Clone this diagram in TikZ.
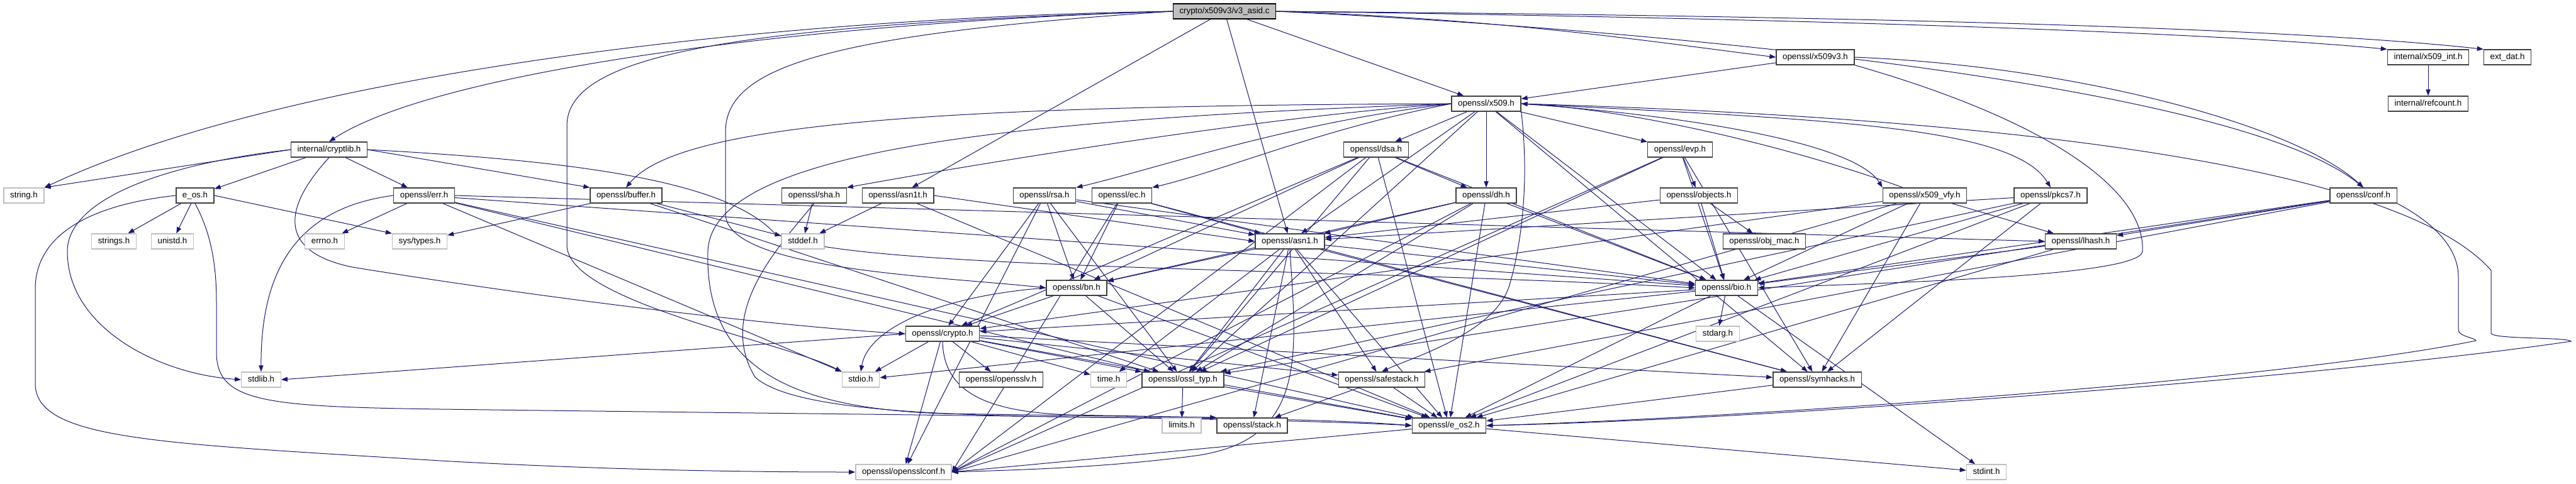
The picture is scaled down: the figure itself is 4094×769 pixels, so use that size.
\documentclass[tikz,border=0pt]{standalone}
\usepackage{fontspec}
\setmainfont{Liberation Sans}
\usetikzlibrary{arrows.meta}
\pgfdeclarelayer{bg}
\pgfsetlayers{bg,main}
\definecolor{edgeblue}{HTML}{191970}
\definecolor{sysgray}{HTML}{BFBFBF}
\definecolor{docgray}{HTML}{404040}
\tikzset{
  hdr/.style={draw=docgray, line width=1pt, fill=white, minimum height=18pt, inner xsep=7.6pt, inner ysep=0pt, font=\fontsize{10}{12}\selectfont, text height=7.4pt, text depth=2.1pt},
  syshdr/.style={hdr, draw=sysgray},
  roothdr/.style={hdr, fill=sysgray, draw=black},
  dep/.style={draw=edgeblue, line width=0.75pt, -{Triangle[length=7.5pt,width=5.5pt]}},
}
\begin{document}
\begin{tikzpicture}[x=0.75pt,y=-0.75pt]
\useasboundingbox (0,0) rectangle (4094,769);
% nodes
\node[roothdr] (root) at (1946,18) {crypto/x509v3/v3\_asid.c};
\node[hdr] (x509v3) at (2885,91) {openssl/x509v3.h};
\node[hdr] (x509int) at (3859,91) {internal/x509\_int.h};
\node[hdr] (extdat) at (3985,91) {ext\_dat.h};
\node[hdr] (x509) at (2362,165) {openssl/x509.h};
\node[hdr] (refcount) at (3859,165) {internal/refcount.h};
\node[hdr] (cryptlib) at (523,238) {internal/cryptlib.h};
\node[hdr] (dsa) at (2187,238) {openssl/dsa.h};
\node[hdr] (evp) at (2670,238) {openssl/evp.h};
\node[syshdr] (stringh) at (38,311) {string.h};
\node[hdr] (eos) at (310,311) {e\_os.h};
\node[hdr] (err) at (674,311) {openssl/err.h};
\node[hdr] (buffer) at (995,311) {openssl/buffer.h};
\node[hdr] (sha) at (1294,311) {openssl/sha.h};
\node[hdr] (asn1t) at (1427,311) {openssl/asn1t.h};
\node[hdr] (rsa) at (1660,311) {openssl/rsa.h};
\node[hdr] (ec) at (1783,311) {openssl/ec.h};
\node[hdr] (dh) at (2362,311) {openssl/dh.h};
\node[hdr] (objects) at (2700,311) {openssl/objects.h};
\node[hdr] (x509vfy) at (3059,311) {openssl/x509\_vfy.h};
\node[hdr] (pkcs7) at (3259,311) {openssl/pkcs7.h};
\node[hdr] (conf) at (3756,311) {openssl/conf.h};
\node[syshdr] (strings) at (181,384) {strings.h};
\node[syshdr] (unistd) at (274,384) {unistd.h};
\node[syshdr] (errno) at (516,384) {errno.h};
\node[syshdr] (systypes) at (667,384) {sys/types.h};
\node[syshdr] (stddef) at (1276,384) {stddef.h};
\node[hdr] (asn1) at (2050,384) {openssl/asn1.h};
\node[hdr] (objmac) at (2804,384) {openssl/obj\_mac.h};
\node[hdr] (lhash) at (3307,384) {openssl/lhash.h};
\node[hdr] (bn) at (1711,458) {openssl/bn.h};
\node[hdr] (bio) at (2744,458) {openssl/bio.h};
\node[hdr] (crypto) at (1498,531) {openssl/crypto.h};
\node[syshdr] (stdarg) at (2730,531) {stdarg.h};
\node[syshdr] (stdlib) at (415,604) {stdlib.h};
\node[syshdr] (stdio) at (1368,604) {stdio.h};
\node[hdr] (opensslv) at (1591,604) {openssl/opensslv.h};
\node[syshdr] (timeh) at (1762,604) {time.h};
\node[hdr] (ossltyp) at (1880,604) {openssl/ossl\_typ.h};
\node[hdr] (safestack) at (2196,604) {openssl/safestack.h};
\node[hdr] (symhacks) at (2888,604) {openssl/symhacks.h};
\node[syshdr] (limits) at (1878,677) {limits.h};
\node[hdr] (stack) at (1990,677) {openssl/stack.h};
\node[hdr] (eos2) at (2303,677) {openssl/e\_os2.h};
\node[syshdr] (opensslconf) at (1436,751) {openssl/opensslconf.h};
\node[syshdr] (stdint) at (3157,751) {stdint.h};
\begin{pgfonlayer}{bg}
% root
\draw[dep] (root.west) .. controls (1200,28) and (450,120) .. (stringh.north east);
\draw[dep] (root.west) .. controls (1300,35) and (700,110) .. (cryptlib.north);
\draw[dep] (root.west) .. controls (1150,40) and (901,90) .. (901,200) -- (901,390) .. controls (901,480) and (1250,545) .. (stdio.north west);
\draw[dep] (root.west) .. controls (1300,55) and (1153,110) .. (1153,210) -- (1153,340) .. controls (1153,430) and (1500,440) .. (bn.west);
\draw[dep] (root) -- (asn1t);
\draw[dep] (root) -- (asn1);
\draw[dep] (root) -- (x509);
\draw[dep] (root.east) .. controls (2400,30) and (2650,70) .. (x509v3.west);
\draw[dep] (root.east) .. controls (2800,28) and (3500,50) .. (x509int.north west);
\draw[dep] (root.east) .. controls (2800,24) and (3600,40) .. (extdat.north west);
\draw[dep] (root.east) .. controls (2600,45) and (3550,130) .. (conf.north);
% cryptlib
\draw[dep] (cryptlib.west) -- (stringh.north east);
\draw[dep] (cryptlib.west) .. controls (250,262) and (107,320) .. (107,400) .. controls (107,520) and (250,595) .. (stdlib.west);
\draw[dep] (cryptlib) -- (eos);
\draw[dep] (cryptlib.south) .. controls (450,330) and (440,400) .. (560,425) .. controls (900,480) and (1250,520) .. (crypto.west);
\draw[dep] (cryptlib) -- (err);
\draw[dep] (cryptlib.east) -- (buffer.north west);
\draw[dep] (cryptlib.east) .. controls (900,255) and (1150,285) .. (1230,370) .. controls (1320,430) and (2100,425) .. (bio.west);
% e_os
\draw[dep] (eos) -- (strings);
\draw[dep] (eos) -- (unistd);
\draw[dep] (eos.east) -- (systypes.north west);
\draw[dep] (eos.west) .. controls (150,325) and (56,370) .. (56,460) -- (56,610) .. controls (56,700) and (250,705) .. (700,733) .. controls (1000,750) and (1250,751) .. (opensslconf.west);
\draw[dep] (eos.south) .. controls (335,370) and (344,420) .. (344,480) -- (344,560) .. controls (344,640) and (420,647) .. (700,651) .. controls (1400,660) and (2000,664) .. (eos2.west);
% err
\draw[dep] (err) -- (errno);
\draw[dep] (err.west) .. controls (480,330) and (414,420) .. (stdlib.north);
\draw[dep] (err) -- (stdio);
\draw[dep] (err) -- (ossltyp);
\draw[dep] (err) -- (eos2);
\draw[dep] (err) -- (bio);
\draw[dep] (err.east) -- (lhash.west);
% buffer
\draw[dep] (buffer) -- (systypes);
\draw[dep] (buffer) -- (stddef);
\draw[dep] (buffer) -- (ossltyp);
% sha
\draw[dep] (sha) -- (stddef);
\draw[dep] (sha.south) .. controls (1230,400) and (1140,500) .. (1200,600) .. controls (1300,690) and (1900,650) .. (eos2.west);
% asn1t
\draw[dep] (asn1t) -- (stddef);
\draw[dep] (asn1t.east) -- (asn1.west);
\draw[dep] (asn1t) -- (eos2);
% rsa
\draw[dep] (rsa) -- (opensslconf);
\draw[dep] (rsa) -- (asn1);
\draw[dep] (rsa) -- (bio);
\draw[dep] (rsa) -- (crypto);
\draw[dep] (rsa) -- (ossltyp);
\draw[dep] (rsa) -- (bn);
% ec
\draw[dep] (ec) -- (opensslconf.east);
\draw[dep] (ec) -- (asn1);
\draw[dep] (ec) -- (symhacks);
\draw[dep] (ec) -- (bn);
% dsa
\draw[dep] (dsa) -- (opensslconf.east);
\draw[dep] (dsa) -- (eos2);
\draw[dep] (dsa) -- (bio);
\draw[dep] (dsa) -- (crypto);
\draw[dep] (dsa) -- (ossltyp);
\draw[dep] (dsa) -- (bn);
\draw[dep] (dsa) -- (dh);
% dh
\draw[dep] (dh) -- (eos2);
\draw[dep] (dh) -- (opensslconf.east);
\draw[dep] (dh) -- (bio);
\draw[dep] (dh) -- (asn1);
\draw[dep] (dh) -- (ossltyp);
\draw[dep] (dh) -- (bn);
% evp
\draw[dep] (evp) -- (opensslconf.east);
\draw[dep] (evp) -- (ossltyp);
\draw[dep] (evp) -- (symhacks);
\draw[dep] (evp) -- (bio);
\draw[dep] (evp) -- (objects);
% objects
\draw[dep] (objects) -- (objmac);
\draw[dep] (objects) -- (bio);
\draw[dep] (objects) -- (asn1);
% x509_vfy
\draw[dep] (x509vfy) -- (opensslconf.east);
\draw[dep] (x509vfy) -- (lhash);
\draw[dep] (x509vfy) -- (bio);
\draw[dep] (x509vfy) -- (crypto);
\draw[dep] (x509vfy) -- (symhacks);
\draw[dep] (x509vfy.160) .. controls (2850,235) and (2600,175) .. (x509.east);
% pkcs7
\draw[dep] (pkcs7) -- (asn1);
\draw[dep] (pkcs7) -- (bio);
\draw[dep] (pkcs7) -- (eos2);
\draw[dep] (pkcs7) -- (symhacks);
\draw[dep] (pkcs7) -- (ossltyp);
% conf
\draw[dep] (conf) -- (bio);
\draw[dep] (conf) -- (lhash);
\draw[dep] (conf) -- (safestack);
\draw[dep] (conf) -- (ossltyp);
\draw[dep] (conf.south east) .. controls (3860,350) and (3907,390) .. (3907,440) -- (3907,525) .. controls (3907,535) and (3935,538) .. (3935,542) .. controls (3600,610) and (2700,668) .. (eos2.east);
% x509v3
\draw[dep] (x509v3) -- (x509);
\draw[dep] (x509v3.east) .. controls (3300,105) and (3650,200) .. (conf.north);
\draw[dep] (x509v3.south east) .. controls (3250,190) and (3410,300) .. (3405,400) .. controls (3400,440) and (3000,450) .. (bio.east);
% x509_int
\draw[dep] (x509int) -- (refcount);
% x509
\draw[dep] (x509.south east) .. controls (2430,280) and (2420,380) .. (2400,450) .. controls (2380,530) and (2240,570) .. (safestack.north);
\draw[dep] (x509) -- (dh);
\draw[dep] (x509) -- (dsa);
\draw[dep] (x509) -- (evp);
\draw[dep] (x509) -- (asn1);
\draw[dep] (x509) -- (bio);
\draw[dep] (x509) -- (ossltyp);
\draw[dep] (x509) -- (symhacks);
\draw[dep] (x509.west) .. controls (1600,190) and (1130,240) .. (1125,400) .. controls (1120,580) and (1250,650) .. (1500,658) -- (stack.north west);
\draw[dep] (x509.west) .. controls (1500,168) and (1080,195) .. (buffer.north);
\draw[dep] (x509.west) .. controls (2000,185) and (1500,270) .. (sha.north east);
\draw[dep] (x509.west) .. controls (2050,195) and (1850,265) .. (rsa.north east);
\draw[dep] (x509.west) .. controls (2100,205) and (1950,270) .. (ec.north east);
\draw[dep] (x509.east) .. controls (2700,185) and (2950,230) .. (x509vfy.north west);
\draw[dep] (x509.east) .. controls (2900,190) and (3200,200) .. (pkcs7.north);
\draw[dep] (x509.east) .. controls (3100,185) and (3800,250) .. (3959,430) -- (3959,530) .. controls (3960,540) and (4080,536) .. (4086,543) .. controls (3700,600) and (2800,668) .. (eos2.east);
% asn1
\draw[dep] (asn1) -- (timeh);
\draw[dep] (asn1) -- (eos2);
\draw[dep] (asn1.south) .. controls (2060,560) and (2080,700) .. (1900,725) .. controls (1750,745) and (1600,748) .. (opensslconf.east);
\draw[dep] (asn1) -- (bio);
\draw[dep] (asn1) -- (stack);
\draw[dep] (asn1) -- (safestack);
\draw[dep] (asn1) -- (symhacks);
\draw[dep] (asn1) -- (ossltyp);
\draw[dep] (asn1) -- (bn);
% lhash
\draw[dep] (lhash) -- (eos2);
\draw[dep] (lhash) -- (bio);
% bn
\draw[dep] (bn) -- (eos2);
\draw[dep] (bn.west) .. controls (1500,470) and (1380,520) .. (stdio.north);
\draw[dep] (bn) -- (ossltyp);
\draw[dep] (bn) -- (crypto);
% bio
\draw[dep] (bio) -- (eos2);
\draw[dep] (bio) -- (stdio);
\draw[dep] (bio) -- (stdarg);
\draw[dep] (bio) -- (crypto);
\draw[dep] (bio) -- (stdint);
% crypto
\draw[dep] (crypto.west) -- (stdlib.east);
\draw[dep] (crypto) -- (timeh);
\draw[dep] (crypto) -- (eos2);
\draw[dep] (crypto) -- (stdio);
\draw[dep] (crypto) -- (safestack);
\draw[dep] (crypto) -- (opensslv);
\draw[dep] (crypto) -- (ossltyp);
\draw[dep] (crypto) -- (opensslconf);
\draw[dep] (crypto) -- (symhacks);
\draw[dep] (crypto.south) .. controls (1500,620) and (1560,655) .. (1700,660) -- (stack.north west);
% ossl_typ, safestack, symhacks, e_os2
\draw[dep] (ossltyp) -- (eos2);
\draw[dep] (ossltyp) -- (limits);
\draw[dep] (safestack) -- (stack);
\draw[dep] (safestack) -- (eos2);
\draw[dep] (symhacks) -- (eos2);
\draw[dep] (eos2) -- (opensslconf.east);
\draw[dep] (eos2) -- (stdint);
\end{pgfonlayer}
\end{tikzpicture}
\end{document}
